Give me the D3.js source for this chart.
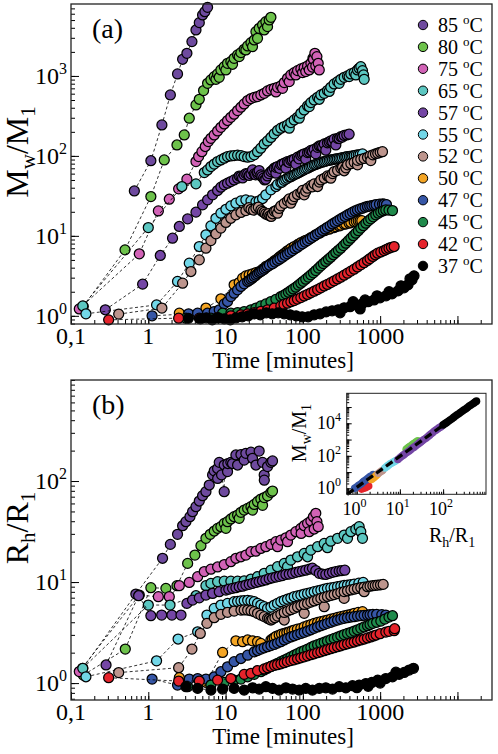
<!DOCTYPE html>
<html><head><meta charset="utf-8">
<script src="https://cdn.jsdelivr.net/npm/d3@7"></script>
<style>
body{margin:0;background:#fff}
svg{display:block}
text{font-family:"Liberation Serif","Times New Roman",serif;fill:#000}
</style>
</head><body>
<svg id="chart" width="498" height="754"></svg>
<script>
// ---------- DATA ----------
const seriesLabels = ["85","80","75","65","57","55","52","50","47","45","42","37"];
const seriesColors = ["#6e4a9e","#6dc24b","#d162b6","#5cc7c1","#7446a5","#72d7e8","#bd958d","#f4a524","#3656a6","#1f8a4b","#e5232b","#000000"];
const xTickLabels = ["0,1","1","10","100","1000"];

// panel (a): [time in minutes, Mw/M1]
const mw85=[[0.66,36.5],[1.08,87],[1.50,244],[1.93,579],[2.39,1059],[2.78,1616],[3.16,1920],[3.67,2687],[4.14,3758],[4.57,4642],[5.04,5790],[5.40,6368],[5.85,7214]];
const mw80=[[0.144,1.31],[0.50,6.68],[1.08,31.0],[1.61,89],[2.35,137],[2.92,183],[3.39,296],[4.14,434],[4.57,511],[5.19,656],[5.85,809],[6.46,891],[7.13,981],[7.5,908],[7.88,1059],[8.28,962],[8.7,1189],[9.61,1308],[10.1,1189],[10.6,1440],[11.7,1511],[12.3,1400],[12.9,1662],[14.3,1830],[15.0,1745],[15.8,1957],[17.4,2154],[18.3,2113],[19.3,2371],[21.3,2610],[22.3,2327],[23.5,2818],[24.7,3583],[25.9,2956],[27.2,3942],[30.1,4340],[31.6,3758],[33.2,4777],[34.9,4137],[36.7,5012],[38.6,5412]];
const mw75=[[0.128,1.22],[0.765,5.96],[1.35,20.5],[1.87,28.7],[2.47,38.7],[3.16,51.1],[4.14,85],[4.48,98.1],[4.94,113],[5.46,131],[5.97,151],[6.46,166],[7.13,183],[7.88,205],[8.7,228],[9.61,251],[10.6,277],[11.7,304],[12.9,332],[14.3,369],[15.8,406],[17.4,447],[19.3,492],[21.3,521],[23.5,541],[25.9,552],[28.6,579],[31.6,607],[34.9,649],[38.6,681],[42.6,701],[44.8,630],[47.0,721],[51.9,750],[54.6,701],[57.4,826],[63.3,935],[66.6,849],[69.9,1029],[77.2,1101],[81.2,1029],[85.3,1166],[94.2,1223],[99,1101],[104,1271],[109,1133],[115,1334],[121,1189],[127,1440],[133,1290],[135,1662],[137,1616],[143,1920],[147,1334],[152,1745],[158,1440],[163,1189]];
const mw65=[[0.142,1.33],[1.0,12.7],[2.72,41.4],[4.14,44.7],[5.3,61.9],[5.85,66.8],[6.46,73.6],[7.13,79],[7.88,85],[8.7,89.1],[9.61,93.5],[10.6,98.1],[11.7,100],[12.9,101],[14.3,102],[15.8,101],[17.4,98.1],[19.3,96.2],[21.3,98.1],[23.5,103],[25.9,113],[28.6,125],[31.6,141],[34.9,154],[38.6,170],[42.6,189],[47.0,208],[51.9,222],[57.4,233],[63.3,244],[66.6,222],[69.9,261],[77.2,282],[85.3,304],[89.7,296],[94.2,341],[104,376],[115,422],[121,414],[127,464],[140,501],[155,541],[163,511],[171,579],[189,607],[208,656],[219,640],[230,721],[254,794],[281,849],[295,809],[310,908],[342,962],[378,1000],[397,981],[418,1059],[461,1101],[484,1029],[509,1189],[535,1247],[562,1308],[591,1166],[610,1029],[621,908]];
const mw57=[[0.278,1.19],[0.845,2.49],[1.43,5.68],[2.06,9.35],[2.52,13.1],[3.23,16.3],[4.14,19.8],[5.04,24.4],[5.85,28.2],[6.79,32.6],[7.88,36.9],[8.7,40.6],[9.61,43.4],[10.6,45.5],[11.7,47.8],[12.9,50.1],[14.3,52.6],[15.8,55.2],[17.4,57.9],[19.3,59.6],[21.3,59.6],[22.3,66.8],[23.5,59.6],[25.9,59.6],[27.2,65.6],[28.6,57.9],[31.0,52.6],[33.2,51.1],[34.9,56.2],[38.6,63.7],[42.6,70.1],[44.8,60.8],[47.0,73.6],[51.9,77.2],[57.4,81],[60.3,70.1],[63.3,85],[69.9,87.4],[77.2,90.8],[81.2,79],[85.3,96.2],[94.2,101],[104,106],[109,90.8],[115,110],[127,117],[140,121],[147,106],[155,128],[171,133],[189,141],[198,118],[208,146],[230,154],[254,162],[267,137],[281,166],[310,174],[342,180],[397,187]];
const mw57x=[[15,56],[16.6,53],[18.3,60],[20.2,57],[24.5,58],[26,63],[29.5,55],[32,50],[36.5,60],[40.5,66],[45,72],[50,70],[54,79],[66,83],[73,89],[89,92],[99,104],[121,112],[133,114],[163,133],[180,130],[219,150],[242,151],[295,165],[325,172],[370,183]];
const mw55=[[0.156,1.06],[1.28,1.37],[2.39,2.69],[3.39,4.55],[4.57,7.36],[5.57,10.3],[6.46,13.3],[7.5,16.6],[8.7,19.2],[10.1,21.5],[11.7,23.7],[13.6,25.6],[15.8,27.4],[18.3,28.2],[21.3,27.4],[24.7,26.6],[27.2,27.4],[30.1,29.3],[33.2,32.6],[38.6,37.6],[44.8,41.4],[51.9,46.4],[57,49.5],[63.3,52.6],[70,55],[77.2,57.9],[85,60.5],[94.2,63.7],[104,67],[115,70.1],[127,73.6],[140,77.2],[155,80],[171,82.5],[189,85],[208,87.4],[230,89],[254,90.8],[280,92],[310,93.5],[345,96],[378,98.1],[420,99],[461,101],[520,103],[591,106]];
const mw55x=[[47,44],[54,47],[60,51],[67,54.5],[74,57],[81,59.5],[89,62],[99,65.5],[109,69],[121,72],[133,75.5],[147,78],[163,81.5],[180,84],[198,86],[219,88],[242,90],[267,91.5],[295,93],[326,95],[360,97],[400,98.5],[440,100],[490,102],[550,104]];
const mw52=[[0.414,1.05],[1.5,1.25],[2.78,2.56],[3.56,3.58],[4.57,5.01],[5.57,7.01],[6.46,8.74],[7.5,10.6],[8.7,12.5],[10.1,14.7],[11.7,16.6],[13.6,18.3],[15.8,19.6],[18.3,20.7],[21.3,21.5],[24.7,22.2],[28.6,21.1],[31.6,19.6],[34.9,18.3],[37.4,17.8],[40.5,18.9],[44.8,20.7],[47,19.2],[51.9,23.7],[63.3,27.4],[69.9,25.6],[77.2,31],[94.2,34.7],[104,32.6],[115,39.4],[140,44.7],[155,41.4],[171,50.1],[208,56.2],[230,52.6],[254,63.7],[310,70.1],[342,65.2],[378,77.2],[461,83.2],[509,77.2],[562,90.8],[686,96.2],[757,87.4],[805,103],[931,108],[1072,113]];
const mw52x=[[20,22.5],[23,21],[26.5,22.8],[30,20.2],[33,18.8],[36,19],[39,17.5],[42.6,20.3],[49.4,22],[57.4,25.5],[66.6,29],[73.5,28.5],[85.3,33],[99,37],[109,36],[127,42.5],[133,41],[163,47],[189,52.5],[219,55],[242,60],[281,66],[326,72],[360,71],[418,80],[509,88],[620,93],[740,100],[870,106],[1000,111]];
const mw50=[[2.52,1.08],[5.57,1.25],[8.7,1.63],[12.9,2.44],[15,2.61],[16.6,2.96],[18.3,3.16],[20.2,3.25],[22.3,3.35],[24.7,3.48],[27.2,3.58],[30.1,3.83],[33.2,4.14],[36.7,4.34],[40.5,4.64],[44.8,5.01],[49.4,5.41],[54.6,5.79],[60.3,6.25],[66.6,6.68],[77.2,7.36],[89.7,7.95],[104,8.6],[121,9.2],[140,10],[163,10.8],[189,11.6],[219,12.1],[254,12.7],[295,13.3],[342,14],[397,14.4],[461,15],[520,15.4],[579,15.5]];
const mw50x=[[38.6,4.5],[42.6,4.85],[47,5.15],[51.9,5.6],[57.4,6.0],[63.3,6.5],[70,6.95],[85.3,7.75],[94.2,8.2],[109,8.8],[127,9.5],[147,10.3],[171,11.1],[198,11.8],[230,12.4],[267,13],[310,13.6],[360,14.1],[418,14.7],[490,15.2],[550,15.5]];
const mw47=[[1.12,1.0],[3.32,1.06],[4.35,1.08],[5.85,1.08],[7.13,1.13],[8.28,1.19],[9.61,1.41],[10.6,1.51],[11.7,1.74],[12.9,1.92],[14.3,2.11],[15.8,2.33],[17.4,2.51],[19.3,2.69],[21.3,2.87],[23.5,3.10],[25.9,3.35],[28.6,3.58],[31.6,3.83],[34.9,4.14],[40.5,4.47],[47,4.92],[54.6,5.41],[63.3,5.96],[73.5,6.55],[85.3,7.2],[99,7.95],[115,8.74],[133,9.6],[155,10.6],[180,11.7],[208,12.8],[242,14.1],[281,15.4],[326,16.8],[378,18.3],[439,19.8],[509,21.1],[591,22.2],[686,23.3],[780,23.9],[887,24.6],[1072,25.1],[1207,24.6]];
const mw47x=[[20.2,2.78],[22.3,2.98],[24.7,3.22],[27.2,3.48],[30.1,3.7],[33.2,3.98],[37,4.3],[43.5,4.7],[50.5,5.15],[59,5.7],[68,6.25],[79,6.9],[92,7.6],[107,8.35],[124,9.2],[144,10.1],[167,11.1],[194,12.2],[225,13.4],[261,14.7],[303,16.1],[352,17.5],[408,19],[474,20.5],[550,21.7],[638,22.8],[733,23.6],[835,24.2],[980,24.9],[1130,25]];
const mw45=[[3.07,0.935],[6.46,0.935],[9.15,1.08],[11.7,1.08],[14.3,1.10],[17.4,1.13],[21.3,1.19],[24.7,1.25],[28.6,1.33],[33.2,1.41],[38.6,1.51],[44.8,1.61],[51.9,1.74],[60.3,1.88],[69.9,2.07],[81.2,2.28],[94.2,2.56],[109,2.87],[127,3.25],[147,3.68],[171,4.22],[198,4.78],[230,5.41],[267,6.19],[310,7.01],[360,8.09],[418,9.35],[484,10.8],[562,12.5],[653,14.4],[757,16.3],[878,18.3],[1018,20],[1184,21.1],[1444,20.7]];
const mw45x=[[56,1.8],[65,1.97],[75,2.17],[87.5,2.42],[101,2.7],[118,3.05],[137,3.45],[159,3.95],[184,4.5],[214,5.1],[248,5.8],[288,6.6],[334,7.55],[388,8.7],[450,10.05],[522,11.6],[606,13.4],[703,15.4],[815,17.3],[945,19.2],[1100,20.6],[1300,21]];
const mw42=[[0.307,0.89],[2.47,0.935],[4.57,0.935],[7.88,0.95],[11.7,1.0],[15.8,1.03],[19.3,1.06],[23.5,1.10],[28.6,1.14],[34.9,1.19],[42.6,1.25],[51.9,1.33],[63.3,1.44],[77.2,1.55],[94.2,1.69],[115,1.85],[140,2.03],[171,2.24],[208,2.47],[254,2.74],[310,3.04],[378,3.41],[461,3.83],[562,4.34],[686,4.92],[805,5.52],[931,6.07],[1126,6.55],[1300,7.01],[1517,7.36]];
const mw42x=[[57,1.39],[70,1.5],[85,1.62],[104,1.77],[127,1.94],[155,2.13],[189,2.36],[230,2.6],[281,2.89],[342,3.22],[418,3.62],[509,4.08],[620,4.62],[740,5.2],[865,5.8],[1020,6.3],[1210,6.8],[1400,7.2]];
const mw37=[[3.3,0.93],[4.71,0.917],[5.63,0.944],[6.73,0.89],[8.05,0.944],[9.62,0.917],[11.5,0.89],[13.7,0.944],[16.4,0.972],[19.7,1.0],[23.5,1.06],[28.1,1.03],[33.6,1.09],[40.1,1.06],[48,1.09],[57.3,1.06],[68.5,1.03],[81.9,1.0],[98,0.97],[117,0.97],[140,1.03],[167,1.06],[200,1.12],[239,1.155],[286,1.19],[303,1.09],[342,1.26],[408,1.30],[447,1.50],[488,1.37],[551,1.22],[584,1.41],[638,1.58],[698,1.50],[834,1.58],[912,1.78],[997,1.68],[1192,1.78],[1303,2.0],[1425,1.88],[1703,2.05],[1862,2.37],[2036,2.24],[2294,2.44],[2432,2.90],[2583,2.82],[2742,3.16]];

// panel (b): [time in minutes, Rh/R1]
const rh85=[[0.142,1.40],[0.69,7.6],[1.53,17.2],[1.93,23.6],[2.39,29.7],[2.78,36.1],[3.07,39.6],[3.46,44.4],[3.74,49.7],[4.14,55.7],[4.57,63.4],[5.04,71.6],[5.57,78.4],[6.15,91.3],[6.79,115],[7.13,126],[7.88,133],[7.9,106],[8.28,153],[8.88,115],[9.6,78.4],[9.61,144],[10.6,124],[10.7,149],[11.7,153],[12.3,149],[13.6,181],[14.3,144],[15.8,183],[17.4,161],[18.3,188],[21.3,193],[22.3,168],[24.7,144],[27.2,198],[30.1,153],[31.6,115],[31.7,102],[34.9,139],[38.6,153],[40.5,158]];
const rh80=[[0.144,1.2],[0.504,2.17],[1.08,8.79],[1.69,8.66],[2.35,9.20],[3.23,15.3],[4.01,18.5],[4.8,22.9],[5.57,27.1],[6.33,29.7],[7.13,32.0],[7.88,34.0],[8.7,35.3],[9.61,38.1],[10.1,34],[10.6,39.6],[11.7,42.1],[12.9,44.4],[14.3,46.1],[15.0,42.7],[15.8,49.0],[17.4,51.6],[19.3,53.6],[21.3,55.7],[22.3,51.6],[23.5,58.7],[25.9,62.4],[28.6,66.3],[30.1,57.5],[31.6,68.6],[34.9,71.4],[38.6,77.2],[40.5,79.6]];
const rh75=[[0.128,1.3],[0.765,7.43],[1.35,7.16],[1.87,7.16],[2.52,9.2],[3.39,9.92],[4.35,11.3],[5.3,12.7],[6.46,13.4],[7.88,14.1],[9.61,14.9],[11.7,15.9],[13.6,17.2],[15.8,17.8],[18.3,18.5],[21.3,20.0],[24.7,20.2],[28.6,21.5],[33.2,22.4],[38.6,23.6],[44.8,25.1],[47,22.4],[51.9,26.0],[60.3,27.4],[63.3,25.1],[69.9,29.2],[81.2,31.5],[94.2,34.0],[95,30.3],[104,36.1],[115,38.1],[121,31.5],[127,40.2],[137,44.4],[140,33.5],[147,47.9],[152,39.6],[158,35.3]];
const rh65=[[0.142,1.40],[1.0,5.92],[1.91,5.92],[4.14,7.32],[5.57,9.2],[6.46,9.7],[7.88,10.1],[9.61,10.2],[11.7,10.2],[14.3,10.2],[17.4,10.3],[21.3,10.7],[25.9,11.3],[31.6,12.2],[38.6,13.1],[47,14.2],[57.4,15.3],[63.3,14.2],[69.9,16.5],[85.3,17.8],[104,19.2],[115,17.8],[127,20.7],[155,22.4],[189,24.1],[208,21.9],[230,25.4],[281,27.1],[342,29.2],[378,27.1],[418,31.5],[484,33.4],[535,35.3],[562,31.5],[591,27.1]];
const rh57=[[0.284,1.51],[0.75,7.32],[1.08,4.64],[1.49,4.71],[2.02,4.71],[2.65,4.71],[3.16,6.15],[3.74,6.63],[4.57,6.98],[5.57,7.43],[6.79,7.72],[8.28,8.02],[10.1,8.33],[12.3,8.66],[15,8.99],[18.3,9.34],[22.3,9.70],[27.2,10.1],[33.2,10.5],[40.5,11.0],[49.4,11.4],[60.3,11.9],[73.5,12.2],[89.7,12.7],[109,13.1],[133,13.7],[163,12.2],[198,11.9],[242,12.5],[295,12.9],[349,13.1]];
const rh57x=[[11,8.5],[13.6,8.8],[16.6,9.1],[20.2,9.5],[24.7,9.9],[30,10.3],[36.7,10.8],[44.8,11.2],[54.6,11.6],[66.6,12],[81,12.5],[99,12.9],[121,13.4],[147,13],[180,12],[220,12.2],[267,12.7],[320,13]];
const rh55=[[0.156,1.155],[1.28,1.66],[2.43,2.73],[4.35,3.22],[5.74,4.71],[7.13,5.49],[8.7,5.92],[10.6,6.15],[12.9,6.39],[15.8,6.5],[19.3,6.6],[23.5,6.39],[28.6,5.92],[34.9,5.49],[42.6,5.92],[51.9,6.39],[63.3,6.76],[77.2,7.16],[94.2,7.43],[115,7.72],[140,8.02],[171,8.33],[208,8.66],[254,8.85],[310,9.13],[378,9.34],[461,9.55],[603,9.92]];
const rh55x=[[14.3,6.45],[17.4,6.55],[21.3,6.5],[25.9,6.15],[31.6,5.7],[38.6,5.65],[47,6.15],[57.4,6.6],[69.9,6.95],[85.3,7.3],[104,7.6],[127,7.87],[155,8.18],[189,8.5],[230,8.75],[281,9.0],[342,9.25],[418,9.45],[530,9.75]];
const rh52=[[0.414,1.27],[2.47,1.42],[3.67,2.17],[4.71,3.10],[5.74,3.90],[7.13,4.44],[8.7,4.79],[10.6,5.01],[12.9,5.16],[15.8,5.28],[19.3,5.28],[23.5,5.09],[28.6,4.71],[34.9,4.37],[38.6,4.21],[43.5,4.44],[51.9,4.79],[57.4,4.21],[63.3,5.16],[77.2,5.49],[94.2,5.84],[104,4.9],[115,6.15],[140,6.5],[171,6.89],[189,5.70],[208,7.21],[254,7.52],[310,7.90],[342,6.89],[378,8.2],[461,8.5],[562,8.79],[621,8.02],[686,8.99],[805,9.2],[931,9.34],[1094,9.48]];
const rh52x=[[17.4,5.3],[21.3,5.2],[25.9,4.9],[31.6,4.55],[36.7,4.3],[40.5,4.3],[47,4.6],[57.4,5.0],[69.9,5.33],[85.3,5.67],[104,6.0],[127,6.33],[155,6.7],[189,7.05],[230,7.37],[281,7.7],[342,8.05],[418,8.35],[509,8.65],[620,8.9],[740,9.1],[865,9.27],[1010,9.4]];
const rh50=[[2.52,1.13],[5.63,1.015],[9.15,2.01],[13.6,2.62],[16.6,2.57],[19.3,2.67],[22.3,2.62],[25.9,2.57],[28.6,2.47],[38.6,2.67],[42.6,2.81],[49.4,2.99],[57.4,3.10],[66.6,3.22],[77.2,3.35],[94.2,3.48],[115,3.70],[140,3.90],[171,4.05],[208,4.21],[254,4.37],[310,4.54],[378,4.71],[461,4.90],[591,5.09]];
const rh50x=[[40.5,2.74],[45,2.9],[53,3.05],[62,3.16],[72,3.28],[85,3.42],[104,3.6],[127,3.8],[155,3.98],[189,4.13],[230,4.29],[281,4.46],[342,4.62],[418,4.8],[520,5.0]];
const rh47=[[1.12,1.095],[2.39,0.955],[3.39,1.095],[4.35,1.11],[5.57,1.095],[7.13,1.155],[8.7,1.295],[10.6,1.45],[12.9,1.63],[15.8,1.75],[19.3,1.89],[23.5,2.04],[28.6,2.17],[34.9,2.29],[42.6,2.41],[51.9,2.57],[63.3,2.77],[77.2,2.94],[94.2,3.10],[115,3.27],[140,3.48],[171,3.70],[208,3.90],[254,4.11],[310,4.30],[378,4.44],[461,4.54],[562,4.64],[686,4.71],[805,4.79],[1184,4.71]];
const rh47x=[[25.9,2.1],[31.6,2.23],[38.6,2.35],[47,2.49],[57.4,2.67],[69.9,2.86],[85.3,3.02],[104,3.18],[127,3.37],[155,3.59],[189,3.8],[230,4.0],[281,4.2],[342,4.37],[418,4.5],[509,4.6],[620,4.68],[740,4.75],[900,4.8],[1050,4.76]];
const rh45=[[3.23,0.92],[6.46,0.955],[9.61,1.015],[12.9,1.07],[15.8,1.095],[19.3,1.155],[23.5,1.22],[28.6,1.295],[34.9,1.40],[42.6,1.51],[51.9,1.63],[63.3,1.75],[77.2,1.89],[94.2,2.04],[115,2.17],[140,2.34],[171,2.47],[208,2.61],[254,2.77],[310,2.94],[378,3.10],[461,3.27],[562,3.48],[686,3.70],[805,3.90],[1020,4.11],[1444,4.64]];
const rh45x=[[31.6,1.35],[38.6,1.46],[47,1.57],[57.4,1.69],[69.9,1.82],[85.3,1.96],[104,2.1],[127,2.25],[155,2.4],[189,2.54],[230,2.69],[281,2.85],[342,3.02],[418,3.18],[509,3.37],[620,3.59],[740,3.8],[900,4.0],[1150,4.3],[1300,4.5]];
const rh42=[[0.307,1.13],[2.47,1.047],[4.57,1.047],[7.88,1.07],[11.7,1.11],[17.4,1.22],[21.3,1.25],[25.9,1.33],[31.6,1.38],[38.6,1.46],[47,1.52],[57.4,1.59],[69.9,1.67],[85.3,1.74],[104,1.82],[127,1.91],[155,2.0],[189,2.09],[230,2.19],[281,2.29],[342,2.4],[418,2.5],[509,2.61],[621,2.73],[757,2.86],[887,2.99],[1184,3.2],[1517,3.3],[1540,3.45]];
const rh42x=[[35,1.42],[43,1.5],[52,1.55],[63,1.63],[77,1.7],[94,1.78],[115,1.86],[140,1.95],[171,2.04],[208,2.14],[254,2.24],[310,2.34],[378,2.45],[461,2.55],[562,2.67],[686,2.8],[820,2.93],[1000,3.08],[1300,3.25]];
const rh37=[[3.07,0.92],[4.35,0.886],[6.46,0.852],[9.15,0.872],[12.9,0.886],[17.4,0.852],[22.3,0.899],[27.2,0.872],[33.2,0.92],[40.5,0.886],[49.4,0.852],[60.3,0.899],[73.5,0.872],[89.7,0.852],[109,0.886],[133,0.852],[163,0.886],[198,0.899],[242,0.872],[295,0.92],[360,0.899],[439,0.941],[500,0.9],[535,0.955],[653,0.99],[700,0.93],[780,1.015],[931,1.07],[1000,1.0],[1184,1.11],[1444,1.155],[1600,1.28],[1761,1.22],[2044,1.275],[2371,1.345],[2698,1.40]];

// inset: [Rh/R1, Mw/M1]
const insetFit=[[0.6,0.43],[590,2.3e5]];
const insetBlack=[[100,8e3],[110,9.5e3],[120,1.1e4],[132,1.35e4],[145,1.6e4],[160,1.9e4],[175,2.3e4],[192,2.8e4],[210,3.3e4],[230,3.9e4],[250,4.6e4],[275,5.5e4],[300,6.5e4],[330,7.6e4],[360,9e4],[395,1.1e5],[430,1.3e5],[475,1.55e5],[520,1.8e5],[560,2.1e5],[590,2.3e5]];
const insetPurple=[[9,60],[10,75],[11,95],[12,110],[13,130],[14.5,160],[16,190],[17.5,230],[19,280],[21,330],[23,400],[25.5,490],[28,600],[30.5,720],[33,850],[36,1000],[40,1200],[44,1500],[48,1800],[52,2200],[57,2600],[62,3200],[68,3800],[74,4500],[80,5200],[88,6000],[95,7000]];
const insetGreen=[[14,250],[15,290],[16,330],[17,370],[18,420],[19.5,490],[21,560],[22.5,640],[24,720],[26,850]];
const insetCyan=[[4.5,18],[4.9,21],[5.2,24],[5.6,28],[6,32],[6.5,36],[7,40],[7.5,45],[8,50]];
const insetRosy=[[3.2,8.5],[3.5,10],[3.8,11.5],[4,13]];
const insetOrange=[[2.2,3.5],[2.4,4.2],[2.6,5],[2.8,6],[3,7]];
const insetBlue=[[0.9,1],[1.0,1.2],[1.1,1.5],[1.2,1.7],[1.3,2],[1.4,2.4],[1.5,2.8],[1.65,3.3],[1.8,4],[1.95,4.7],[2.1,5.5],[2.4,7]];
const insetRed=[[1.3,0.9],[1.45,1.0],[1.6,1.1],[1.75,1.25],[1.9,1.4]];

const byTime=(a,b)=>a[0]-b[0];
const mwData=[mw85,mw80,mw75,mw65,mw57.concat(mw57x).sort(byTime),mw55.concat(mw55x).sort(byTime),mw52.concat(mw52x).sort(byTime),mw50.concat(mw50x).sort(byTime),mw47.concat(mw47x).sort(byTime),mw45.concat(mw45x).sort(byTime),mw42.concat(mw42x).sort(byTime),mw37];
const rhData=[rh85,rh80,rh75,rh65,rh57.concat(rh57x).sort(byTime),rh55.concat(rh55x).sort(byTime),rh52.concat(rh52x).sort(byTime),rh50.concat(rh50x).sort(byTime),rh47.concat(rh47x).sort(byTime),rh45.concat(rh45x).sort(byTime),rh42.concat(rh42x).sort(byTime),rh37];

// ---------- DRAW ----------
const svg=d3.select("#chart");
const L=71,R=492;
const x=d3.scaleLog().domain([0.1,28000]).range([L,R]);
const yA=d3.scaleLog().domain([0.79,7940]).range([324,4]);
const yB=d3.scaleLog().domain([0.68,1000]).range([700,380]);

function supText(g,xp,yp,base,exp,size,supSize,anchor,rise){
  const t=g.append("text").attr("x",xp).attr("y",yp).attr("font-size",size).attr("text-anchor",anchor);
  t.append("tspan").text(base);
  t.append("tspan").attr("dy",-rise).attr("font-size",supSize).text(exp);
  return t;
}
function tickAxis(g,axis,tr){
  g.append("g").attr("transform",tr).call(axis)
   .call(s=>s.select(".domain").remove()).selectAll("line").attr("stroke","#000").attr("stroke-width",1);
}

function drawPanel(y,data,top,bottom,yDecades,label,yTitle){
  const g=svg.append("g");
  tickAxis(g,d3.axisBottom(x).tickValues(x.ticks()).tickSize(-4).tickFormat(""),`translate(0,${bottom})`);
  tickAxis(g,d3.axisBottom(x).tickValues([0.1,1,10,100,1000,10000]).tickSize(-8).tickFormat(""),`translate(0,${bottom})`);
  tickAxis(g,d3.axisLeft(y).tickValues(y.ticks()).tickSize(-4).tickFormat(""),`translate(${L},0)`);
  tickAxis(g,d3.axisLeft(y).tickValues(yDecades.map(e=>Math.pow(10,e))).tickSize(-8).tickFormat(""),`translate(${L},0)`);
  xTickLabels.forEach((lab,i)=>{
    g.append("text").attr("x",x(Math.pow(10,i-1))).attr("y",bottom+20).attr("font-size",24)
      .attr("text-anchor","middle").text(lab);
  });
  yDecades.forEach(e=>{ supText(g,67,y(Math.pow(10,e))+8,"10",String(e),24,16,"end",10); });
  data.forEach((ser,i)=>{
    const line=d3.line().x(d=>x(d[0])).y(d=>y(d[1]));
    g.append("path").attr("d",line(ser)).attr("fill","none").attr("stroke","#000")
      .attr("stroke-width",0.8).attr("stroke-dasharray","3,2.5");
    g.append("g").selectAll("circle").data(ser).join("circle")
      .attr("cx",d=>x(d[0])).attr("cy",d=>y(d[1])).attr("r",5)
      .attr("fill",seriesColors[i]).attr("stroke","#000").attr("stroke-width",1.25);
  });
  g.append("rect").attr("x",L).attr("y",top).attr("width",R-L).attr("height",bottom-top)
    .attr("fill","none").attr("stroke","#222").attr("stroke-width",1.3);
  g.append("text").attr("x",92).attr("y",top+34).attr("font-size",28).text(label);
  g.append("text").attr("x",283).attr("y",bottom+44).attr("font-size",23)
    .attr("text-anchor","middle").text("Time [minutes]");
  const yt=g.append("text").attr("transform",`translate(28,${(top+bottom)/2-12}) rotate(-90)`)
    .attr("font-size",32).attr("text-anchor","middle");
  yt.append("tspan").text(yTitle[0]);
  yt.append("tspan").attr("dy",7).attr("font-size",21).text(yTitle[1]);
  yt.append("tspan").attr("dy",-7).text("/"+yTitle[0]);
  yt.append("tspan").attr("dy",7).attr("font-size",21).text("1");
  return g;
}

drawPanel(yA,mwData,4,324,[0,1,2,3],"(a)",["M","w"]);
drawPanel(yB,rhData,380,700,[0,1,2],"(b)",["R","h"]);

// legend
const lg=svg.append("g");
seriesLabels.forEach((s,i)=>{
  const cy=25+i*21.9;
  lg.append("circle").attr("cx",423).attr("cy",cy).attr("r",4.7)
    .attr("fill",seriesColors[i]).attr("stroke","#000").attr("stroke-width",1);
  const t=lg.append("text").attr("x",438).attr("y",cy+7).attr("font-size",20);
  t.append("tspan").text(s+" ");
  t.append("tspan").attr("dy",-8).attr("font-size",13).text("o");
  t.append("tspan").attr("dy",8).text("C");
});

// inset
const xi=d3.scaleLog().domain([0.59,980]).range([346.7,486]);
const yi=d3.scaleLog().domain([0.43,7e5]).range([494.3,393.3]);
const ig=svg.append("g");
ig.append("rect").attr("x",346.7).attr("y",393.3).attr("width",139.3).attr("height",101).attr("fill","#fff");
tickAxis(ig,d3.axisBottom(xi).tickValues(xi.ticks()).tickSize(-2.5).tickFormat(""),"translate(0,494.3)");
tickAxis(ig,d3.axisBottom(xi).tickValues([1,10,100]).tickSize(-5).tickFormat(""),"translate(0,494.3)");
tickAxis(ig,d3.axisLeft(yi).tickValues(yi.ticks()).tickSize(-2.5).tickFormat(""),"translate(346.7,0)");
tickAxis(ig,d3.axisLeft(yi).tickValues([1,10,100,1e3,1e4,1e5]).tickSize(-5).tickFormat(""),"translate(346.7,0)");
const insetSets=[[insetRed,"#e5232b"],[insetBlue,"#3656a6"],[insetOrange,"#f4a524"],[insetRosy,"#bd958d"],[insetCyan,"#72d7e8"],[insetGreen,"#6dc24b"],[insetPurple,"#7446a5"],[insetBlack,"#000"]];
insetSets.forEach(([d,c])=>{
  ig.append("g").selectAll("circle").data(d).join("circle")
    .attr("cx",p=>xi(p[0])).attr("cy",p=>yi(p[1])).attr("r",3.8).attr("fill",c);
});
ig.append("path").attr("d",d3.line().x(p=>xi(p[0])).y(p=>yi(p[1]))(insetFit))
  .attr("stroke","#000").attr("stroke-width",3.3).attr("stroke-dasharray","8,4").attr("fill","none");
ig.append("rect").attr("x",346.7).attr("y",393.3).attr("width",139.3).attr("height",101)
  .attr("fill","none").attr("stroke","#222").attr("stroke-width",1);
[0,1,2].forEach(e=>{supText(ig,xi(Math.pow(10,e))-2,515,"10",String(e),18,12,"middle",8);});
[0,2,4].forEach(e=>{supText(ig,341,yi(Math.pow(10,e))+6,"10",String(e),18,12,"end",8);});
const ixt=ig.append("text").attr("x",452).attr("y",542).attr("font-size",20).attr("text-anchor","middle");
ixt.append("tspan").text("R");ixt.append("tspan").attr("dy",5).attr("font-size",14).text("h");
ixt.append("tspan").attr("dy",-5).text("/R");ixt.append("tspan").attr("dy",5).attr("font-size",14).text("1");
const iyt=ig.append("text").attr("transform","translate(306,433) rotate(-90)").attr("font-size",20).attr("text-anchor","middle");
iyt.append("tspan").text("M");iyt.append("tspan").attr("dy",5).attr("font-size",14).text("w");
iyt.append("tspan").attr("dy",-5).text("/M");iyt.append("tspan").attr("dy",5).attr("font-size",14).text("1");
</script>
</body></html>
